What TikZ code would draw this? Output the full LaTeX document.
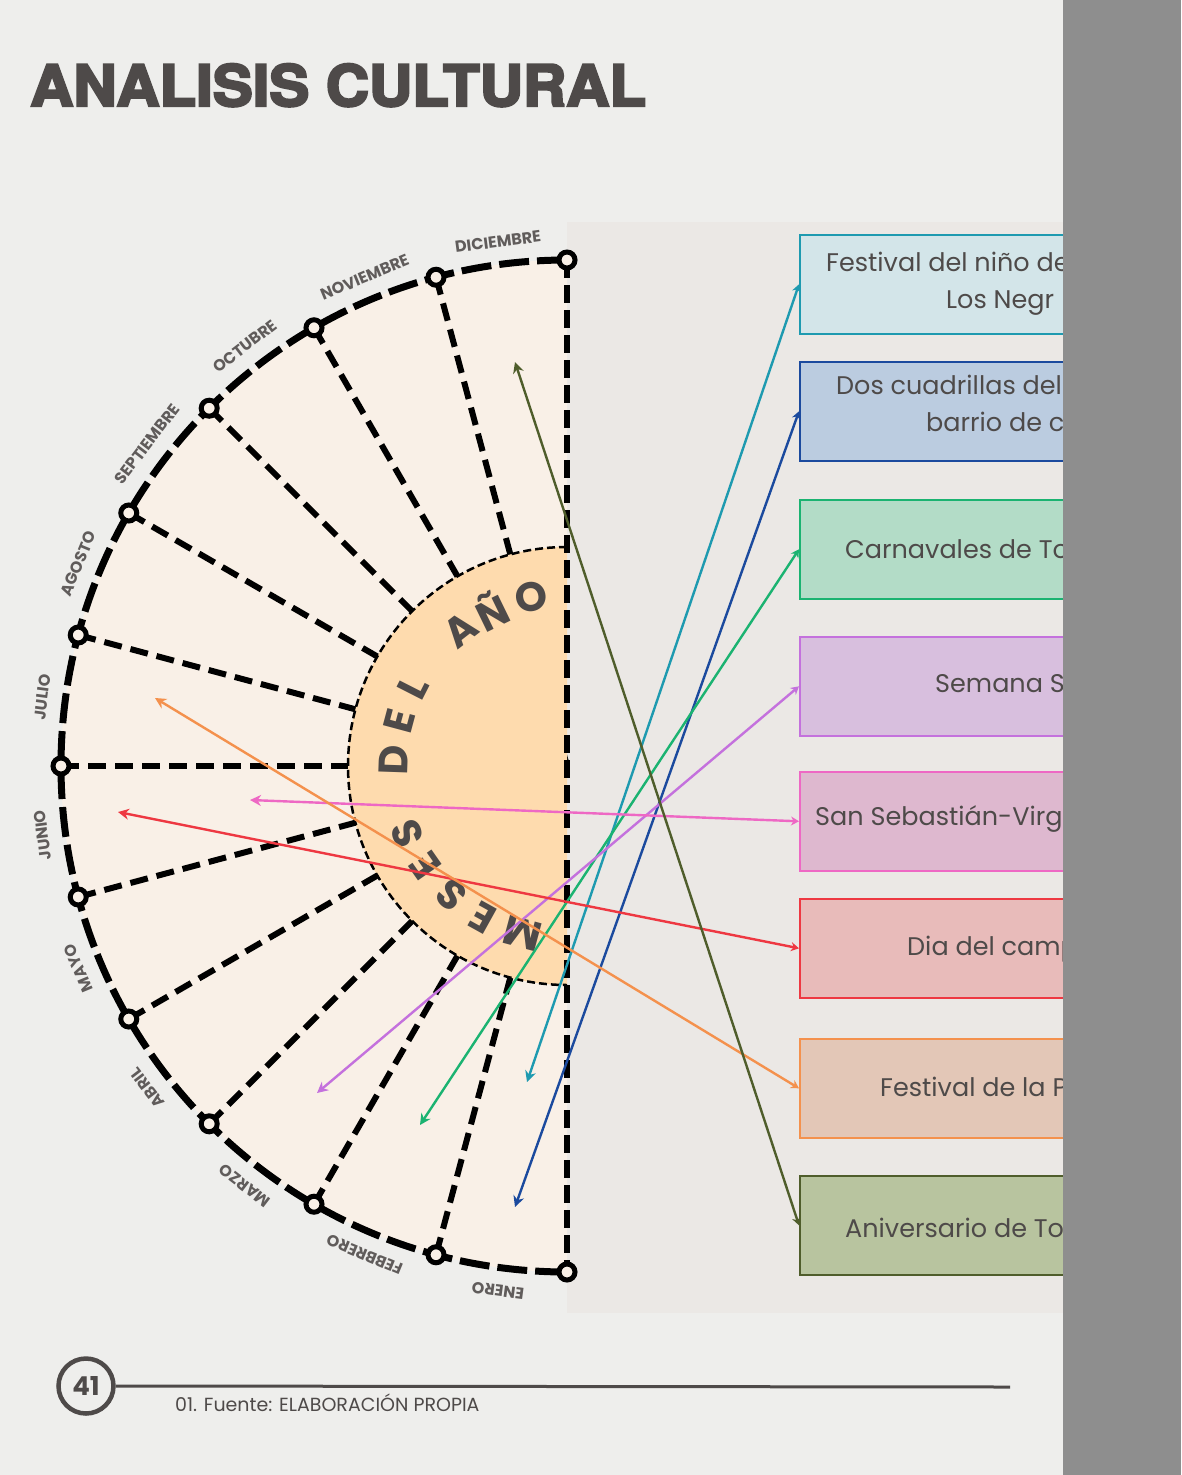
\documentclass[tikz,border=0pt]{standalone}
\usepackage{fontspec}
\setmainfont{Poppins}
\newfontfamily\titlefont{TeX Gyre Heros}[BoldFeatures={FakeBold=4}]
\usetikzlibrary{arrows.meta,positioning,calc}
\definecolor{paper}{HTML}{EEEEEC}
\definecolor{panel}{HTML}{EBE8E5}
\definecolor{band}{HTML}{8E8E8E}
\definecolor{cream}{HTML}{F9F0E7}
\definecolor{peach}{HTML}{FEDBAE}
\definecolor{ink}{HTML}{4E4A49}
\definecolor{cTeal}{HTML}{1E9AB0}\definecolor{fTeal}{HTML}{D3E5E9}
\definecolor{cBlue}{HTML}{1B4A9E}\definecolor{fBlue}{HTML}{BBCCE0}
\definecolor{cGreen}{HTML}{1BB371}\definecolor{fGreen}{HTML}{B3DCC7}
\definecolor{cPurple}{HTML}{C471DD}\definecolor{fPurple}{HTML}{D8BFDE}
\definecolor{cPink}{HTML}{EE68C4}\definecolor{fPink}{HTML}{DEB8CF}
\definecolor{cRed}{HTML}{EE3842}\definecolor{fRed}{HTML}{E8BBBA}
\definecolor{cOrange}{HTML}{F4914D}\definecolor{fOrange}{HTML}{E3C7B7}
\definecolor{cOlive}{HTML}{4F5D2B}\definecolor{fOlive}{HTML}{B8C49F}

\begin{document}
\begin{tikzpicture}[x=1pt, y=-1pt, >=Stealth,
  radial/.style={line width=6pt, dash pattern=on 18pt off 9pt},
  rim/.style={line width=7pt, dash pattern=on 30pt off 8pt},
  ring/.style={circle, draw, line width=5pt, fill=cream, minimum size=16pt, inner sep=0pt},
  month/.style={font=\fontsize{16}{16}\selectfont\bfseries, text=ink!90, inner sep=0pt},
  letra/.style={font=\fontsize{41}{41}\selectfont\bfseries, text=ink, inner sep=0pt},
  evento/.style={draw, line width=1.6pt, minimum width=300pt, minimum height=99pt, anchor=north west, inner sep=0pt},
  etiqueta/.style={anchor=base west, inner sep=0pt, font=\fontsize{25.5}{25.5}\selectfont, text=ink},
  flecha/.style={line width=2.4pt, {Stealth[length=8pt,width=9pt]}-{Stealth[length=11pt,width=11pt]}}]
\useasboundingbox (0,0) rectangle (1181,1475);
\fill[paper] (0,0) rectangle (1181,1475);
\fill[panel] (567,222) rectangle (1063,1313);

\coordinate (C) at (567,766);
\foreach \i in {0,...,12} \coordinate (p\i) at ($(C)+({90+15*\i}:506pt)$);
\fill[cream] (p0) arc[start angle=90, end angle=270, radius=506pt] -- cycle;
\foreach \i in {1,...,11} \draw[radial] (p\i) -- (C);
\fill[peach] ($(C)+(90:219pt)$) arc[start angle=90, end angle=270, radius=219pt] -- cycle;
\draw[line width=2.5pt, dash pattern=on 8pt off 4pt] ($(C)+(90:219pt)$) arc[start angle=90, end angle=270, radius=219pt];
\draw[rim] (p0) arc[start angle=90, end angle=270, radius=506pt];
\draw[line width=6pt, dash pattern=on 18pt off 7pt] (p0) -- (p12);
\foreach \i in {0,...,12} \node[ring] (r\i) at (p\i) {};

\foreach \m [count=\i] in {DICIEMBRE,NOVIEMBRE,OCTUBRE,SEPTIEMBRE,AGOSTO,JULIO,JUNIO,MAYO,ABRIL,MARZO,FEBBRERO,ENERO}
  \node[month, rotate={-7.5+15*\i}] (mes\i) at ($(C)+({82.5+15*\i}:529pt)$) {\m};
\foreach \c/\a in {M/255,E/241,S/228,E/215,S/203,D/178,E/165,L/153,A/128,Ñ/116,O/102}
  \node[letra, rotate=\a-90] (t\a) at ($(C)+(\a:173pt)$) {\c};

\node[evento, draw=cTeal, fill=fTeal] (b1) at (799,234) {};
\node[evento, draw=cBlue, fill=fBlue] (b2) at (799,361) {};
\node[evento, draw=cGreen, fill=fGreen] (b3) at (799,499) {};
\node[evento, draw=cPurple, fill=fPurple] (b4) at (799,636) {};
\node[evento, draw=cPink, fill=fPink] (b5) at (799,771) {};
\node[evento, draw=cRed, fill=fRed] (b6) at (799,898) {};
\node[evento, draw=cOrange, fill=fOrange] (b7) at (799,1038) {};
\node[evento, draw=cOlive, fill=fOlive] (b8) at (799,1175) {};
\node[etiqueta] (e1a) at (826,271) {Festival del niño de};
\node[etiqueta] (e1b) at (946,308) {Los Negr};
\node[etiqueta] (e2a) at (836,394) {Dos cuadrillas del};
\node[etiqueta] (e2b) at (926,431) {barrio de c};
\node[etiqueta] (e3) at (845,558) {Carnavales de To};
\node[etiqueta] (e4) at (935,692) {Semana S};
\node[etiqueta] (e5) at (815,825) {San Sebastián-Virg};
\node[etiqueta] (e6) at (907,955) {Dia del camp};
\node[etiqueta] (e7) at (880,1096) {Festival de la P};
\node[etiqueta] (e8) at (845,1237) {Aniversario de To};

\coordinate (pEne1) at (527,1082); \coordinate (pEne2) at (515,1207);
\coordinate (pFeb) at (420,1125); \coordinate (pMar) at (317,1093);
\coordinate (pJun1) at (250,800); \coordinate (pJun2) at (118,812);
\coordinate (pJul) at (155,698); \coordinate (pDic) at (515,362);
\draw[flecha, cTeal] (b1.west) -- (pEne1);
\draw[flecha, cBlue] (b2.west) -- (pEne2);
\draw[flecha, cGreen] (b3.west) -- (pFeb);
\draw[flecha, cPurple] (b4.west) -- (pMar);
\draw[flecha, cPink] (b5.west) -- (pJun1);
\draw[flecha, cRed] (b6.west) -- (pJun2);
\draw[flecha, cOrange] (b7.west) -- (pJul);
\draw[flecha, cOlive] (b8.west) -- (pDic);

\fill[band] (1063,0) rectangle (1181,1475);
\node[anchor=base west, inner sep=0pt, xscale=1.05, font=\titlefont\bfseries\fontsize{57}{57}\selectfont, text=ink] (titulo) at (30,106) {ANALISIS CULTURAL};
\node[circle, draw=ink, line width=4.5pt, minimum size=55pt, inner sep=0pt, font=\fontsize{26}{26}\selectfont\bfseries, text=ink] (pag) at (86,1386) {41};
\coordinate (fin) at (1010,1387);
\draw[ink, line width=3pt] (pag.east) -- (fin);
\node[anchor=west, inner sep=0pt, font=\fontsize{19}{19}\selectfont, text=ink] (fuente) at (175,1403) {01. Fuente: ELABORACIÓN PROPIA};
\end{tikzpicture}
\end{document}
